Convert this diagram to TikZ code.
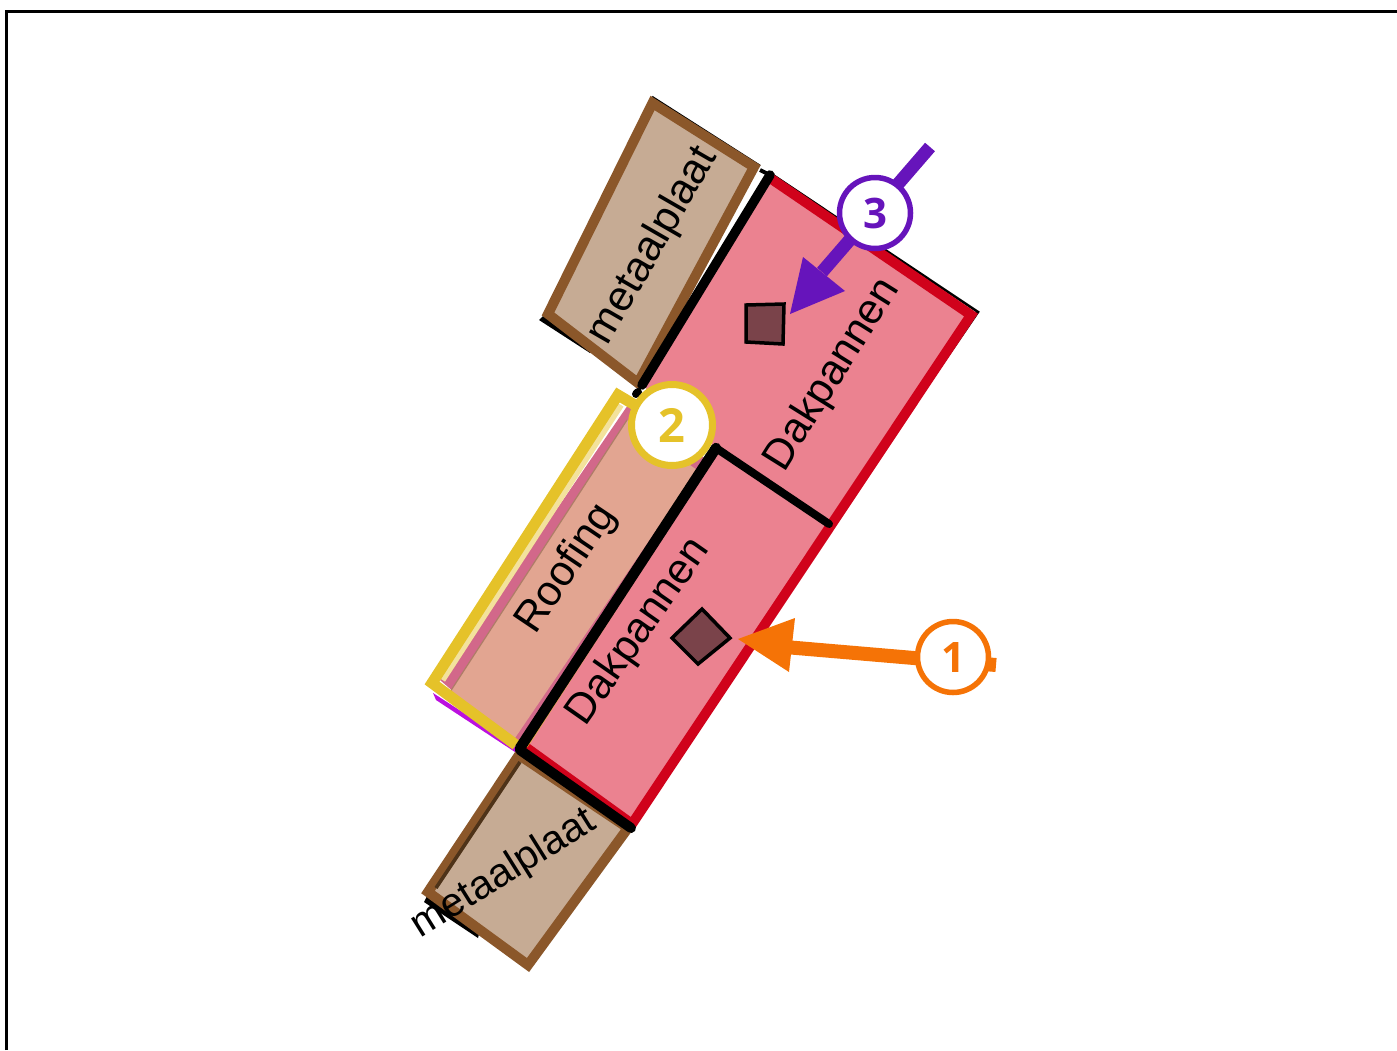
\documentclass[tikz,border=0pt]{standalone}
\usepackage{fontspec}
\setmainfont{Liberation Sans}
\newfontfamily\numfont{Open Sans}
\definecolor{pinkfill}{HTML}{EB8290}
\definecolor{redline}{HTML}{D0021B}
\definecolor{brownline}{HTML}{8B572A}
\definecolor{brownfill}{HTML}{C6AB94}
\definecolor{darkbrown}{HTML}{4E3319}
\definecolor{yellowline}{HTML}{E5C229}
\definecolor{paleyellow}{HTML}{F3E29C}
\definecolor{rosefill}{HTML}{D2688A}
\definecolor{salmon}{HTML}{E2A591}
\definecolor{magentaline}{HTML}{BB10E0}
\definecolor{orangec}{HTML}{F57306}
\definecolor{purplec}{HTML}{6614BB}
\definecolor{tile}{HTML}{7A434A}
\tikzset{
  x=1pt,y=-1pt,
  plate/.style={draw=brownline,line width=10pt,fill=brownfill,line join=miter},
  beam/.style={black,line width=9.5pt,line cap=round},
  thinblack/.style={black,line width=2.5pt},
  tilebox/.style={draw=black,line width=3.5pt,fill=tile,line join=miter},
  lbl/.style={font=\fontsize{42.5}{42.5}\selectfont,text=black,inner sep=0pt},
  callout/.style={circle,fill=white,line width=5.5pt,minimum size=71pt,inner sep=0pt,
    font=\fontsize{42}{42}\numfont\bfseries},
}
\begin{document}
\begin{tikzpicture}
\useasboundingbox (0,0) rectangle (1397,1050);
% frame
\draw[black,line width=3pt] (6.5,1050) -- (6.5,11) -- (1397,11);

% top metal plate
\draw[thinblack,line join=round] (652,97) -- (760,166);
\fill[black] (539,320) -- (543,316) -- (595,348) -- (590,353) -- cycle;
\filldraw[plate] (652.5,103) -- (754,167) -- (638,383) -- (548,314) -- cycle;

% roof tiles outline and fill
\fill[pinkfill] (770,175) -- (973,314) -- (830,525) -- (632,824) -- (522,746) -- (716,448) -- (642,385) -- cycle;
\draw[thinblack] (770,173) -- (978,312) -- (830,528);
\draw[redline,line width=10pt,line join=miter] (770,178) -- (971,315) -- (632,824) -- (524,746);

% bottom metal plate
\fill[black] (427,896) -- (424,902) -- (478,938) -- (480,930) -- cycle;
\filldraw[plate] (519,755) -- (428,892) -- (528,965) -- (628,828) -- cycle;
\draw[darkbrown,line width=3.5pt] (520,762) -- (436,888);

% roofing layers
\fill[magentaline] (433,693) -- (436,700) -- (515,752) -- (518,748) -- cycle;
\fill[rosefill] (440,680) -- (630,402) -- (707,460) -- (523,737) -- (515,745) -- cycle;
\fill[salmon] (450,692) -- (627,420) -- (697,470) -- (515,738) -- cycle;
\draw[darkbrown!35!salmon,line width=1.2pt] (450,692) -- (627,420);
\draw[paleyellow,line width=6pt] (442.5,680) -- (621,405);
\draw[yellowline,line width=11pt,line join=miter] (640,408) -- (618,395) -- (432,683) -- (516,745);
\draw[yellowline,line width=1pt] (527,747) -- (717,453);

% beams
\draw[beam] (770,175) -- (642,385);
\draw[beam,line width=10.5pt] (716,448) -- (520,748);
\draw[beam,line width=10pt] (520,750) -- (631,828);
\draw[beam,line width=8pt] (716,448) -- (829,524);
\draw[black,line width=4pt] (760,170) -- (770,175);
\draw[black,line width=8pt,line cap=round] (636,394) -- (638,392);

% tiles
\filldraw[tilebox] (746,305) -- (784,304) -- (783,344) -- (746,342) -- cycle;
\filldraw[tilebox] (702,609) -- (730,638) -- (698,664) -- (672,638) -- cycle;

% labels
\node[lbl,rotate=58] (dakA) at (833,375) {Dakpannen};
\node[lbl,rotate=55] (dakB) at (639,632) {Dakpannen};
\node[lbl,rotate=56] (roof) at (567,569) {Roofing};
\node[lbl,rotate=60] (metA) at (653,246) {metaalplaat};
\node[lbl,rotate=32,font=\fontsize{40.5}{40.5}\selectfont] (metB) at (504,874) {metaalplaat};

% callout 1
\coordinate (a1s) at (996,665);
\coordinate (a1e) at (785,647);
\coordinate (a1t) at (738,639);
\coordinate (a1u) at (795,618);
\coordinate (a1l) at (789,672);
\draw[orangec,line width=14pt] (a1s) -- (a1e);
\fill[orangec] (a1t) -- (a1u) -- (a1l) -- cycle;
\node[callout,draw=orangec,text=orangec] (c1) at (953,657) {1};

% callout 2
\node[callout,draw=yellowline,text=yellowline,line width=7pt,minimum size=81pt,
  font=\fontsize{47}{47}\numfont\bfseries] (c2) at (672,425) {2};

% callout 3
\coordinate (a3s) at (930,147);
\coordinate (a3e) at (822,272);
\coordinate (a3t) at (790,314);
\coordinate (a3u) at (803,257);
\coordinate (a3l) at (845,291);
\draw[purplec,line width=13pt] (a3s) -- (a3e);
\fill[purplec] (a3t) -- (a3u) -- (a3l) -- cycle;
\node[callout,draw=purplec,text=purplec] (c3) at (875,213) {3};
\end{tikzpicture}
\end{document}
